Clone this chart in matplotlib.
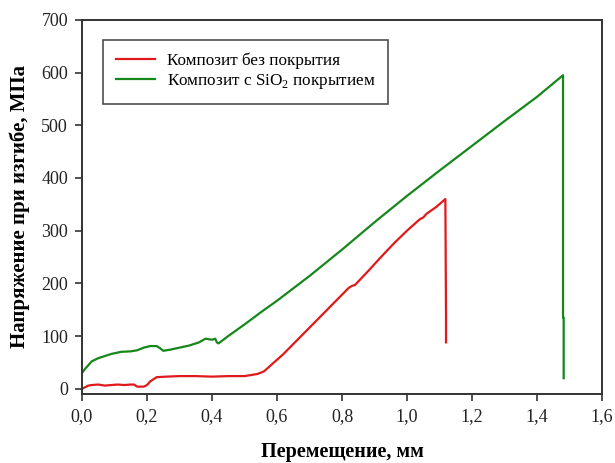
import matplotlib
matplotlib.use('Agg')
import matplotlib.pyplot as plt

plt.rcParams['font.family'] = ['Liberation Serif', 'DejaVu Serif']
plt.rcParams['mathtext.fontset'] = 'custom'
plt.rcParams['mathtext.rm'] = 'Liberation Serif'

# Displacement (mm) and bending stress (MPa) for the uncoated composite
x_plain = [0.0, 0.01, 0.02, 0.03, 0.05, 0.07, 0.09, 0.11, 0.13, 0.15, 0.16,
           0.17, 0.19, 0.20, 0.21, 0.23, 0.26, 0.30, 0.35, 0.40, 0.45, 0.50,
           0.52, 0.54, 0.56, 0.58, 0.62, 0.66, 0.70, 0.74, 0.78, 0.82, 0.83,
           0.84, 0.88, 0.92, 0.96, 1.00, 1.04, 1.05, 1.06, 1.09, 1.118,
           1.12, 1.12]
y_plain = [0, 3, 6, 7, 8, 6, 7, 8, 7, 8, 8,
           4, 4, 7, 14, 22, 23, 24, 24, 23, 24, 24,
           26, 28, 33, 44, 66, 91, 116, 141, 166, 191, 195,
           197, 223, 250, 276, 300, 322, 325, 332, 345, 360,
           140, 88]

# Displacement (mm) and bending stress (MPa) for the SiO2-coated composite
x_coat = [0.0, 0.01, 0.02, 0.03, 0.05, 0.07, 0.09, 0.12, 0.15, 0.17, 0.19,
          0.21, 0.23, 0.24, 0.25, 0.27, 0.30, 0.33, 0.36, 0.38, 0.40, 0.41,
          0.415, 0.42, 0.45, 0.50, 0.55, 0.60, 0.70, 0.80, 0.90, 1.00,
          1.10, 1.20, 1.30, 1.40, 1.48, 1.48, 1.482, 1.482]
y_coat = [30, 38, 45, 52, 58, 62, 66, 70, 71, 73, 78,
          81, 81, 77, 72, 74, 78, 82, 88, 95, 93, 95,
          88, 86, 100, 122, 145, 167, 214, 264, 316, 366,
          414, 461, 508, 554, 595, 135, 135, 20]

fig, ax = plt.subplots(figsize=(6.15, 4.63), dpi=100)
fig.subplots_adjust(left=0.1333, right=0.9789, bottom=0.149, top=0.957)

ax.plot(x_plain, y_plain, color='#e0191b', linewidth=1.6,
        label='Композит без покрытия')
ax.plot(x_coat, y_coat, color='#16881a', linewidth=1.6,
        label='Композит с SiO$_2$ покрытием')

ax.set_xlim(0, 1.6)
ax.set_ylim(-10, 700)
ax.set_xticks([0.0, 0.2, 0.4, 0.6, 0.8, 1.0, 1.2, 1.4, 1.6])
ax.set_xticklabels(['0,0', '0,2', '0,4', '0,6', '0,8', '1,0', '1,2', '1,4', '1,6'])
ax.set_yticks(range(0, 701, 100))
ax.tick_params(direction='out', length=5, width=1.2, labelsize=13,
               colors='#333333', labelcolor='#222222', pad=5)
for sp in ax.spines.values():
    sp.set_linewidth(1.4)
    sp.set_color('#333333')

ax.set_xlabel('Перемещение, мм', fontsize=14.5, fontweight='bold', labelpad=12)
ax.set_ylabel('Напряжение при изгибе, МПа', fontsize=15, fontweight='bold',
              labelpad=8)

leg = ax.legend(loc='upper left', bbox_to_anchor=(0.04, 0.947), fontsize=12.3,
                frameon=True, fancybox=False, handlelength=2.3,
                handletextpad=0.7, borderpad=0.75, labelspacing=0.2,
                borderaxespad=0)
leg.get_frame().set_edgecolor('#222222')
leg.get_frame().set_linewidth(1.2)

fig.savefig('out.png', dpi=100)
